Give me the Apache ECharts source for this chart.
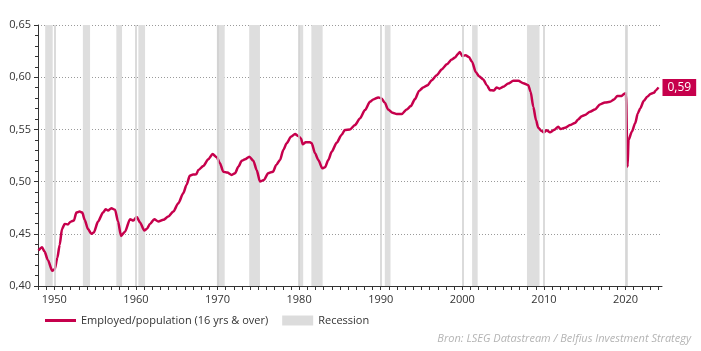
<!DOCTYPE html>
<html>
<head>
<meta charset="utf-8">
<script src="https://cdn.jsdelivr.net/npm/echarts@6/dist/echarts.min.js"></script>
<style>
html, body { margin: 0; padding: 0; background: #fff; }
#chart { width: 701px; height: 351px; }
</style>
</head>
<body>
<div id="chart"></div>
<script>
// employed / population (decimal year, ratio)
const years = [
	1948.06, 1948.5, 1948.8, 1949.2, 1949.75, 1950.05, 1950.37, 1950.66, 1950.94, 1951.27,
	1951.68, 1951.96, 1952.4, 1952.7, 1953.1, 1953.43, 1953.72, 1954.13, 1954.53, 1954.83,
	1955.36, 1955.97, 1956.3, 1956.58, 1956.99, 1957.44, 1957.8, 1958.17, 1958.66, 1959.28,
	1959.68, 1960.1, 1960.5, 1961.03, 1961.32, 1961.73, 1962.25, 1962.75, 1963.36, 1963.97,
	1964.58, 1965.2, 1965.8, 1966.2, 1966.6, 1967.0, 1967.4, 1967.65, 1968.26, 1968.87,
	1969.4, 1969.9, 1970.3, 1970.7, 1971.2, 1971.74, 1972.15, 1972.55, 1972.97, 1973.37,
	1973.9, 1974.39, 1974.8, 1975.2, 1975.7, 1976.2, 1976.8, 1977.2, 1977.66, 1978.06,
	1978.48, 1979.0, 1979.5, 1979.9, 1980.23, 1980.44, 1980.8, 1981.33, 1981.54, 1981.95,
	1982.35, 1982.84, 1983.17, 1983.58, 1983.99, 1984.6, 1985.2, 1985.6, 1986.23, 1986.84,
	1987.45, 1988.07, 1988.68, 1989.09, 1989.7, 1990.1, 1990.5, 1990.9, 1991.45, 1991.96,
	1992.57, 1993.18, 1993.68, 1994.2, 1994.7, 1995.2, 1995.76, 1996.25, 1996.86, 1997.47,
	1998.09, 1998.7, 1999.1, 1999.44, 1999.7, 2000.0, 2000.4, 2000.8, 2001.2, 2001.64,
	2002.05, 2002.57, 2002.99, 2003.4, 2003.87, 2004.2, 2004.53, 2005.02, 2005.63, 2006.24,
	2006.86, 2007.47, 2008.08, 2008.37, 2008.7, 2009.03, 2009.3, 2009.73, 2010.0, 2010.33,
	2010.74, 2011.23, 2011.76, 2012.05, 2012.58, 2013.2, 2013.8, 2014.2, 2014.63, 2015.03,
	2015.64, 2016.25, 2016.87, 2017.48, 2018.1, 2018.6, 2019.0, 2019.52, 2019.9, 2020.05,
	2020.25, 2020.37, 2020.77, 2021.18, 2021.5, 2021.8, 2022.24, 2022.65, 2023.05, 2023.46,
	2023.75, 2024.04
]
const ratio = [
	0.434, 0.437, 0.433, 0.425, 0.4146, 0.416, 0.427, 0.4395, 0.4545, 0.4595,
	0.459, 0.4614, 0.4627, 0.4703, 0.4713, 0.4703, 0.4634, 0.4545, 0.450, 0.4512,
	0.4617, 0.4703, 0.4736, 0.4722, 0.4745, 0.473, 0.462, 0.448, 0.452, 0.464,
	0.4627, 0.466, 0.4608, 0.4531, 0.4545, 0.4595, 0.464, 0.4617, 0.4634, 0.4665,
	0.4713, 0.4793, 0.4889, 0.4968, 0.5055, 0.5067, 0.507, 0.5111, 0.515, 0.5214,
	0.5264, 0.5233, 0.5176, 0.5095, 0.5086, 0.5064, 0.508, 0.5143, 0.52, 0.5214,
	0.5239, 0.52, 0.5111, 0.500, 0.5016, 0.508, 0.5095, 0.516, 0.5207, 0.5303,
	0.5367, 0.543, 0.5455, 0.5436, 0.5414, 0.5357, 0.5376, 0.5376, 0.5367, 0.5271,
	0.5207, 0.5128, 0.5137, 0.5207, 0.5286, 0.5372, 0.5446, 0.5494, 0.55, 0.5541,
	0.5605, 0.5685, 0.5764, 0.5787, 0.5806, 0.5797, 0.5755, 0.5691, 0.5659, 0.5647,
	0.5647, 0.5691, 0.5723, 0.579, 0.5869, 0.5902, 0.5924, 0.5971, 0.6019, 0.6074,
	0.6124, 0.6169, 0.6188, 0.622, 0.6242, 0.6204, 0.621, 0.6194, 0.6146, 0.6051,
	0.601, 0.5978, 0.5924, 0.5876, 0.5872, 0.5902, 0.589, 0.5908, 0.594, 0.5965,
	0.5965, 0.5943, 0.5924, 0.586, 0.5716, 0.5589, 0.5516, 0.5484, 0.5472, 0.5491,
	0.5472, 0.5494, 0.5525, 0.5503, 0.5516, 0.5541, 0.5562, 0.5595, 0.5625, 0.5637,
	0.5669, 0.5691, 0.5739, 0.5758, 0.5764, 0.5787, 0.5821, 0.5821, 0.5844, 0.5846,
	0.5143, 0.5398, 0.5477, 0.5558, 0.5653, 0.5701, 0.5774, 0.5812, 0.5838, 0.585,
	0.5876, 0.5902
]

// NBER recessions (start, end)
const recessionStart = [1948.88, 1953.5, 1957.6, 1960.3, 1969.92, 1973.88, 1980.0, 1981.5, 1990.5, 2001.2, 2007.92, 2020.1]
const recessionEnd = [1949.8, 1954.38, 1958.3, 1961.12, 1970.88, 1975.2, 1980.5, 1982.88, 1991.2, 2001.88, 2009.46, 2020.3]

const decades = [1950, 1960, 1970, 1980, 1990, 2000, 2010, 2020]
const yearTicks = []
for (let y = 1948; y <= 2024; y++) yearTicks.push(y)

const lineName = 'Employed/population (16 yrs & over)'
const recName = 'Recession'
const red = '#c6004c'
const font = "'Liberation Sans Narrow', 'Open Sans', sans-serif"

const fmt = (v) => v.toFixed(2).replace('.', ',')

var myChart = echarts.init(document.getElementById('chart'), null, { renderer: 'canvas' })

var option = {
	animation: false,
	textStyle: { fontFamily: font },
	title: {
		text: 'Bron: LSEG Datastream / Belfius Investment Strategy',
		right: 10,
		top: 333,
		padding: 0,
		textStyle: { fontSize: 11, fontStyle: 'italic', fontWeight: 'normal', color: '#b4b4b4', fontFamily: font },
	},
	legend: {
		left: 45,
		top: 315,
		padding: 0,
		itemWidth: 31,
		itemHeight: 10,
		itemGap: 14,
		symbolKeepAspect: true,
		textStyle: { fontSize: 11, color: '#333', fontFamily: font },
		data: [
			{ name: lineName, icon: 'path://M0,0L31,0L31,3L0,3Z', itemStyle: { color: red } },
			{ name: recName, icon: 'rect', itemStyle: { color: '#dcdcdc' } },
		],
	},
	grid: { left: 38, right: 39, top: 25, bottom: 65, containLabel: false },
	xAxis: {
		type: 'value',
		min: 1948,
		max: 2024.47,
		axisLine: { onZero: false, lineStyle: { color: '#333', width: 1 } },
		axisTick: { customValues: yearTicks, length: 4, lineStyle: { color: '#333' } },
		axisLabel: {
			customValues: decades,
			formatter: (v) => String(v),
			fontSize: 11,
			color: '#333',
			margin: 8,
		},
		splitLine: { show: false },
	},
	yAxis: {
		type: 'value',
		min: 0.4,
		max: 0.65,
		interval: 0.05,
		axisLine: { show: true, lineStyle: { color: '#333', width: 1 } },
		axisTick: { show: true, length: 4, lineStyle: { color: '#333' } },
		minorTick: { show: true, splitNumber: 5, length: 3, lineStyle: { color: '#333' } },
		axisLabel: { formatter: fmt, fontSize: 11, color: '#333', margin: 7 },
		splitLine: { show: true, lineStyle: { type: [1, 2], color: '#9a9a9a', width: 1 } },
	},
	series: [
		{
			name: recName,
			type: 'bar',
			data: [],
			itemStyle: { color: '#dcdcdc' },
			z: 1,
			markArea: {
				silent: true,
				itemStyle: { color: '#dedede' },
				data: recessionStart.map((s, i) => [{ xAxis: s }, { xAxis: recessionEnd[i] }]),
			},
			markLine: {
				silent: true,
				symbol: ['none', 'none'],
				label: { show: false },
				lineStyle: { color: '#cfcfcf', width: 1.5, type: 'solid' },
				data: decades.map((d) => ({ xAxis: d })),
			},
		},
		{
			name: lineName,
			type: 'line',
			data: years.map((y, i) => [y, ratio[i]]),
			showSymbol: false,
			symbol: 'none',
			smooth: 0.25,
			smoothMonotone: 'x',
			z: 3,
			lineStyle: { color: red, width: 2.5 },
			itemStyle: { color: red },
			endLabel: {
				show: true,
				formatter: (p) => fmt(p.value[1]),
				distance: 4,
				backgroundColor: red,
				color: '#fff',
				fontSize: 12,
				lineHeight: 13,
				padding: [2, 5, 2, 5],
				fontFamily: font,
			},
		},
	],
}

option && myChart.setOption(option)
</script>
</body>
</html>
